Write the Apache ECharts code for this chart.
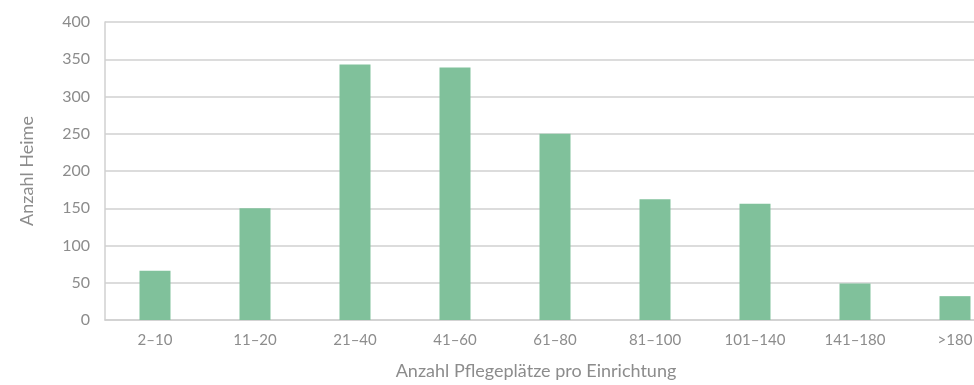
<!DOCTYPE html>
<html>
<head>
<meta charset="utf-8">
<script src="https://cdn.jsdelivr.net/npm/echarts@6/dist/echarts.min.js"></script>
<style>
  html, body { margin: 0; padding: 0; background: #fff; }
  #main { width: 974px; height: 385px; }
</style>
</head>
<body>
<div id="main"></div>
<script>
var categories = ['2–10', '11–20', '21–40', '41–60', '61–80', '81–100', '101–140', '141–180', '>180'];
var heime = [66, 150, 343, 339, 250, 162, 156, 49, 32];

var myChart = echarts.init(document.getElementById('main'));
var textGray = '#8c8c8c';
var lineGray = '#d0d0d0';

var option = {
  animation: false,
  textStyle: { fontFamily: 'Lato' },
  // the original is cropped on the right, so the grid runs past the canvas
  grid: {
    left: 105,
    top: 22,
    width: 900,
    height: 298,
    outerBoundsMode: 'none',
    containLabel: false
  },
  xAxis: {
    type: 'category',
    data: categories,
    name: 'Anzahl Pflegeplätze pro Einrichtung',
    nameLocation: 'middle',
    nameGap: 42,
    nameTextStyle: { color: textGray, fontSize: 18, padding: [0, 38, 0, 0] },
    axisLine: { lineStyle: { color: lineGray, width: 1.5 } },
    axisTick: { show: false },
    axisLabel: { color: textGray, fontSize: 15, margin: 13 }
  },
  yAxis: {
    type: 'value',
    min: 0,
    max: 400,
    interval: 50,
    name: 'Anzahl Heime',
    nameLocation: 'middle',
    nameGap: 69,
    nameTextStyle: { color: textGray, fontSize: 18 },
    axisLine: { show: true, lineStyle: { color: lineGray, width: 1.5 } },
    axisTick: { show: false },
    axisLabel: { color: textGray, fontSize: 16, margin: 15 },
    splitLine: { lineStyle: { color: lineGray, width: 1.5 } }
  },
  series: [{
    name: 'Anzahl Heime',
    type: 'bar',
    barWidth: 31,
    itemStyle: { color: '#80c19b' },
    data: heime
  }]
};
myChart.setOption(option);
</script>
</body>
</html>
